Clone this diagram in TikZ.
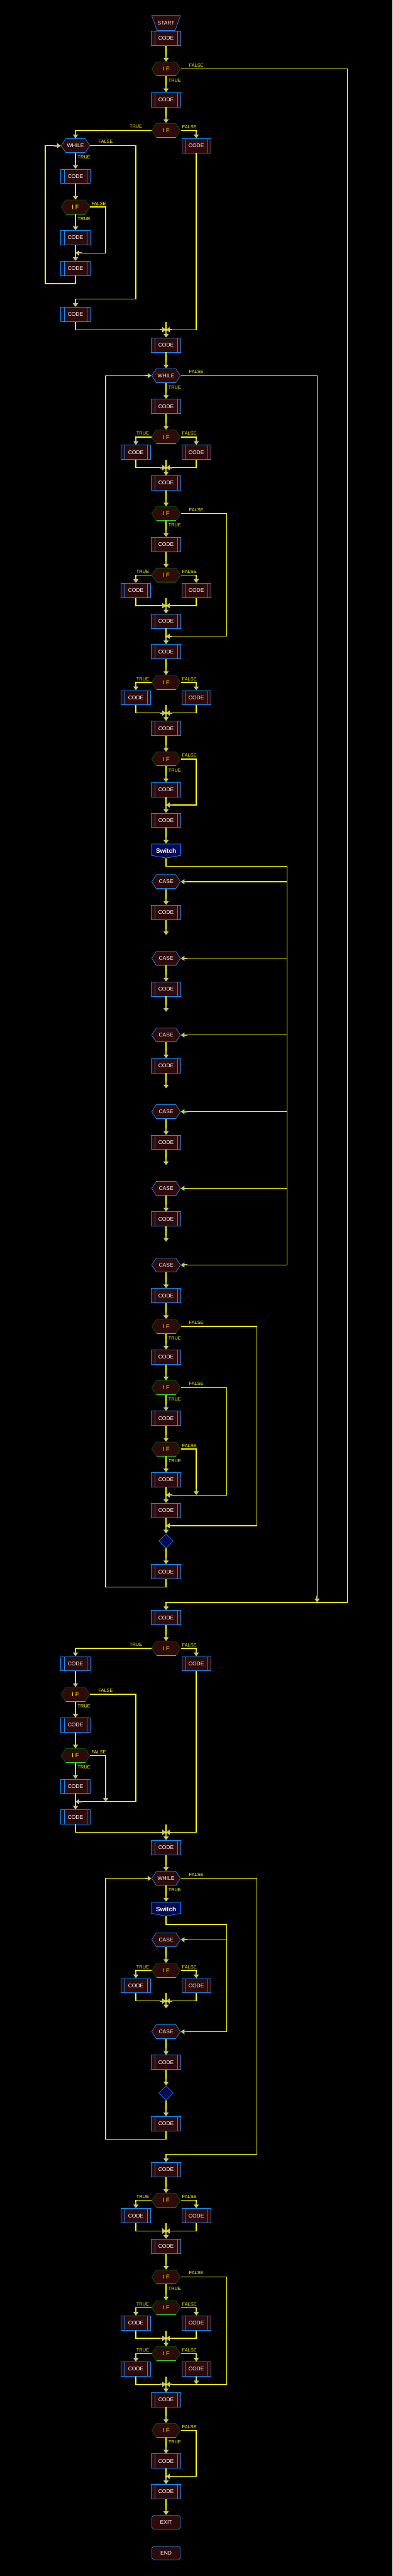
\documentclass[tikz,border=0pt]{standalone}
\usepackage{fontspec}
\setmainfont{Liberation Sans}
\usetikzlibrary{arrows.meta,calc}
\definecolor{flowyellow}{RGB}{255,255,0}
\definecolor{tipkhaki}{RGB}{200,200,112}
\definecolor{codeblue}{RGB}{20,140,255}
\definecolor{nodered}{RGB}{46,10,10}
\definecolor{ifgreen}{RGB}{0,100,0}
\definecolor{ifbright}{RGB}{40,225,40}
\definecolor{navyfill}{RGB}{6,10,80}
\tikzset{
  basebox/.style={rectangle,inner sep=0pt,minimum width=63pt,
                  minimum height=31pt,text=white,
                  font=\fontsize{11.5}{12}\selectfont},
  codebox/.style={basebox,fill=nodered,draw=codeblue,line width=1pt,
    path picture={\draw[codeblue,line width=.8pt]
      ([xshift=7pt]path picture bounding box.north west) --
      ([xshift=7pt]path picture bounding box.south west)
      ([xshift=-7pt]path picture bounding box.north east) --
      ([xshift=-7pt]path picture bounding box.south east);}},
  hexbox/.style 2 args={basebox,fill=black,
    path picture={\path[fill=nodered,draw=#1,line width=1pt]
      ([xshift=10.5pt,yshift=-.5pt]path picture bounding box.north west) --
      ([xshift=-10.5pt,yshift=-.5pt]path picture bounding box.north east) --
      ([xshift=-.5pt]path picture bounding box.east) --
      ([xshift=-10.5pt,yshift=.5pt]path picture bounding box.south east) --
      ([xshift=10.5pt,yshift=.5pt]path picture bounding box.south west) --
      ([xshift=.5pt]path picture bounding box.west) -- cycle;
      \draw[#2,line width=1.2pt]
      ([xshift=10.5pt,yshift=.6pt]path picture bounding box.south west) --
      ([xshift=-10.5pt,yshift=.6pt]path picture bounding box.south east);}},
  ifbox/.style={hexbox={ifgreen}{ifbright},text=flowyellow,
                font=\fontsize{12.5}{13}\selectfont},
  whilebox/.style={hexbox={codeblue}{codeblue}},
  casebox/.style={hexbox={codeblue}{codeblue}},
  startbox/.style={basebox,fill=black,minimum height=33pt,
    path picture={\path[fill=nodered,draw=codeblue,line width=1pt]
      ([xshift=.5pt,yshift=-.5pt]path picture bounding box.north west) --
      ([xshift=-.5pt,yshift=-.5pt]path picture bounding box.north east) --
      ([xshift=-12pt,yshift=.5pt]path picture bounding box.south east) --
      ([xshift=12pt,yshift=.5pt]path picture bounding box.south west) -- cycle;}},
  endbox/.style={basebox,fill=black,
    path picture={\path[fill=nodered,draw=codeblue,line width=1pt]
      ([xshift=5pt,yshift=-.5pt]path picture bounding box.north west) --
      ([xshift=-5pt,yshift=-.5pt]path picture bounding box.north east) --
      ([xshift=-.5pt,yshift=-5pt]path picture bounding box.north east) --
      ([xshift=-.5pt,yshift=5pt]path picture bounding box.south east) --
      ([xshift=-5pt,yshift=.5pt]path picture bounding box.south east) --
      ([xshift=5pt,yshift=.5pt]path picture bounding box.south west) --
      ([xshift=.5pt,yshift=5pt]path picture bounding box.south west) --
      ([xshift=.5pt,yshift=-5pt]path picture bounding box.north west) -- cycle;}},
  switchbox/.style={basebox,fill=black,minimum width=64pt,
    font=\bfseries\fontsize{13.5}{14}\selectfont,
    path picture={\path[fill=navyfill,draw=codeblue,line width=1pt]
      ([xshift=.5pt,yshift=-.5pt]path picture bounding box.north west) --
      ([xshift=-.5pt,yshift=-.5pt]path picture bounding box.north east) --
      ([xshift=-.5pt,yshift=6pt]path picture bounding box.south east) --
      ([yshift=.5pt]path picture bounding box.south) --
      ([xshift=.5pt,yshift=6pt]path picture bounding box.south west) -- cycle;}},
  diamondbox/.style={basebox,fill=black,minimum width=32pt,minimum height=32pt,
    path picture={\path[fill=navyfill,draw=codeblue,line width=.8pt]
      ([yshift=-.5pt]path picture bounding box.north) --
      ([xshift=-.5pt]path picture bounding box.east) --
      ([yshift=.5pt]path picture bounding box.south) --
      ([xshift=.5pt]path picture bounding box.west) -- cycle;}},
  flow/.style={draw=flowyellow,line width=1.8pt},
  arr/.style={flow,-{Rectangle[length=6pt,width=1pt,sep=0pt,color=tipkhaki]
                     Triangle[length=8pt,width=11pt,color=tipkhaki]}},
}
\begin{document}
\begin{tikzpicture}[x=65pt,y=-33pt,
    lab/.style={text=flowyellow,font=\fontsize{10}{10}\selectfont,inner sep=0pt},
    labfar/.style={lab,above=4pt},
    labtrue/.style={lab,anchor=north west,xshift=4pt,yshift=-5pt},
    labfalse/.style={lab,anchor=south west,xshift=2pt,yshift=3pt},
    lableft/.style={lab,anchor=south east,xshift=-4pt,yshift=3pt},
  ]
  \fill[black,use as bounding box] (-0.5,-0.5) rectangle (12.5,167.5);

  \node[startbox] (start) at (5,1) {START};
  \node[codebox] (c1) at (5,2) {CODE};
  \node[ifbox] (if1) at (5,4) {I\hspace{4pt}F};
  \node[codebox] (c2) at (5,6) {CODE};
  \node[ifbox] (if2) at (5,8) {I\hspace{4pt}F};
  \node[whilebox] (w1) at (2,9) {WHILE};
  \node[codebox] (c3) at (6,9) {CODE};
  \node[codebox] (c4) at (2,11) {CODE};
  \node[ifbox] (if3) at (2,13) {I\hspace{4pt}F};
  \node[codebox] (c5) at (2,15) {CODE};
  \node[codebox] (c6) at (2,17) {CODE};
  \node[codebox] (c7) at (2,20) {CODE};
  \node[codebox] (c8) at (5,22) {CODE};
  \node[whilebox] (w2) at (5,24) {WHILE};
  \node[codebox] (c9) at (5,26) {CODE};
  \node[ifbox] (if4) at (5,28) {I\hspace{4pt}F};
  \node[codebox] (c10) at (4,29) {CODE};
  \node[codebox] (c11) at (6,29) {CODE};
  \node[codebox] (c12) at (5,31) {CODE};
  \node[ifbox] (if5) at (5,33) {I\hspace{4pt}F};
  \node[codebox] (c13) at (5,35) {CODE};
  \node[ifbox] (if6) at (5,37) {I\hspace{4pt}F};
  \node[codebox] (c14) at (4,38) {CODE};
  \node[codebox] (c15) at (6,38) {CODE};
  \node[codebox] (c16) at (5,40) {CODE};
  \node[codebox] (c17) at (5,42) {CODE};
  \node[ifbox] (if7) at (5,44) {I\hspace{4pt}F};
  \node[codebox] (c18) at (4,45) {CODE};
  \node[codebox] (c19) at (6,45) {CODE};
  \node[codebox] (c20) at (5,47) {CODE};
  \node[ifbox] (if8) at (5,49) {I\hspace{4pt}F};
  \node[codebox] (c21) at (5,51) {CODE};
  \node[codebox] (c22) at (5,53) {CODE};
  \node[switchbox] (sw1) at (5,55) {Switch};

  \foreach \n/\r in {1/57,2/62,3/67,4/72,5/77,6/82}
    \node[casebox] (cs\n) at (5,\r) {CASE};
  \foreach \n/\r in {1/59,2/64,3/69,4/74,5/79} {
    \node[codebox] (cc\n) at (5,\r) {CODE};
    \draw[arr] (cs\n) -- (cc\n);
    \draw[arr] (cc\n.south) -- ++(0,1);
  }

  \node[codebox] (c23) at (5,84) {CODE};
  \node[ifbox] (if9) at (5,86) {I\hspace{4pt}F};
  \node[codebox] (c24) at (5,88) {CODE};
  \node[ifbox] (if10) at (5,90) {I\hspace{4pt}F};
  \node[codebox] (c25) at (5,92) {CODE};
  \node[ifbox] (if11) at (5,94) {I\hspace{4pt}F};
  \node[codebox] (c26) at (5,96) {CODE};
  \node[codebox] (c27) at (5,98) {CODE};
  \node[diamondbox] (dm1) at (5,100) {};
  \node[codebox] (c28) at (5,102) {CODE};
  \node[codebox] (c29) at (5,105) {CODE};
  \node[ifbox] (if12) at (5,107) {I\hspace{4pt}F};
  \node[codebox] (c30) at (2,108) {CODE};
  \node[codebox] (c31) at (6,108) {CODE};
  \node[ifbox] (if13) at (2,110) {I\hspace{4pt}F};
  \node[codebox] (c32) at (2,112) {CODE};
  \node[ifbox] (if14) at (2,114) {I\hspace{4pt}F};
  \node[codebox] (c33) at (2,116) {CODE};
  \node[codebox] (c34) at (2,118) {CODE};
  \node[codebox] (c35) at (5,120) {CODE};
  \node[whilebox] (w3) at (5,122) {WHILE};
  \node[switchbox] (sw2) at (5,124) {Switch};
  \node[casebox] (cs7) at (5,126) {CASE};
  \node[ifbox] (if15) at (5,128) {I\hspace{4pt}F};
  \node[codebox] (c36) at (4,129) {CODE};
  \node[codebox] (c37) at (6,129) {CODE};
  \node[casebox] (cs8) at (5,132) {CASE};
  \node[codebox] (c38) at (5,134) {CODE};
  \node[diamondbox] (dm2) at (5,136) {};
  \node[codebox] (c39) at (5,138) {CODE};
  \node[codebox] (c40) at (5,141) {CODE};
  \node[ifbox] (if16) at (5,143) {I\hspace{4pt}F};
  \node[codebox] (c41) at (4,144) {CODE};
  \node[codebox] (c42) at (6,144) {CODE};
  \node[codebox] (c43) at (5,146) {CODE};
  \node[ifbox] (if17) at (5,148) {I\hspace{4pt}F};
  \node[ifbox] (if18) at (5,150) {I\hspace{4pt}F};
  \node[codebox] (c44) at (4,151) {CODE};
  \node[codebox] (c45) at (6,151) {CODE};
  \node[ifbox] (if19) at (5,153) {I\hspace{4pt}F};
  \node[codebox] (c46) at (4,154) {CODE};
  \node[codebox] (c47) at (6,154) {CODE};
  \node[codebox] (c48) at (5,156) {CODE};
  \node[ifbox] (if20) at (5,158) {I\hspace{4pt}F};
  \node[codebox] (c49) at (5,160) {CODE};
  \node[codebox] (c50) at (5,162) {CODE};
  \node[endbox] (exitn) at (5,164) {EXIT};
  \node[endbox] (endn) at (5,166) {END};

  \coordinate (j1) at (2,16);
  \coordinate (j2) at (5,21);
  \coordinate (j5) at (5,41);
  \coordinate (j8) at (5,52);
  \coordinate (bus1) at (9,56);
  \coordinate (j97) at (5,97);
  \coordinate (k97) at (6,97);
  \coordinate (j99) at (5,99);
  \coordinate (k104) at (10,104);
  \coordinate (j117) at (2,117);
  \coordinate (k117) at (3,117);
  \coordinate (j119) at (5,119);
  \coordinate (bus2) at (7,125);
  \coordinate (j130) at (5,130);
  \coordinate (j155) at (5,155);
  \coordinate (k155) at (6,155);
  \coordinate (j161) at (5,161);

  \foreach \a/\b in {c1/if1,c2/if2,c4/if3,c5/c6,c8/w2,c9/if4,c12/if5,
      c13/if6,c16/c17,c17/if7,c20/if8,c21/c22,c22/sw1,cs6/c23,c23/if9,
      c24/if10,c25/if11,c26/c27,c27/dm1,dm1/c28,c29/if12,c30/if13,
      c32/if14,c33/c34,c35/w3,cs7/if15,cs8/c38,c38/dm2,dm2/c39,
      c40/if16,c43/if17,c48/if20,c49/c50,c50/exitn}
    \draw[arr] (\a) -- (\b);

  \foreach \a/\b in {if1/c2,w1/c4,if3/c5,w2/c9,if5/c13,if8/c21,if9/c24,
      if10/c25,if11/c26,if13/c32,if14/c33,w3/sw2,if17/if18,if20/c49}
    \draw[arr] (\a.south) node[labtrue]{TRUE} -- (\b);

  \foreach \i/\l/\r in {if4/c10/c11,if6/c14/c15,if7/c18/c19,if15/c36/c37,
      if16/c41/c42,if18/c44/c45,if19/c46/c47} {
    \draw[arr] (\i.west) node[lableft]{TRUE} -| (\l.north);
    \draw[arr] (\i.east) node[labfalse]{FALSE} -| (\r.north);
  }

  \foreach \l/\r/\n in {c10/c11/c12,c14/c15/c16,c18/c19/c20,c41/c42/c43,
      c44/c45/if19} {
    \coordinate (m\n) at ($(\n)+(0,-1)$);
    \draw[arr] (\l.south) |- (m\n);
    \draw[arr] (\r.south) |- (m\n);
    \draw[arr] (m\n |- \l.south) -- (\n);
  }

  \draw[arr] (if1.east) -- (6,4) node[labfar]{FALSE} -| (11,104) -| (c29.north);
  \draw[arr] (if2.west) -- (4,8) node[labfar]{TRUE} -| (w1.north);
  \draw[arr] (if2.east) node[labfalse]{FALSE} -| (c3.north);
  \draw[arr] (w1.east) -- (3,9) node[labfar]{FALSE} -| (4,19) -| (c7.north);
  \draw[arr] (if3.east) node[labfalse]{FALSE} -| (3,16) -- (j1);
  \draw[arr] (c6.south) |- (1,18) |- (w1.west);
  \draw[arr] (c7.south) |- (j2);
  \draw[arr] (c3.south) |- (j2);
  \draw[arr] (j2 |- c7.south) -- (c8);
  \draw[arr] (w2.east) -- (6,24) node[labfar]{FALSE} -| (k104);
  \draw[arr] (if5.east) -- (6,33) node[labfar]{FALSE} -| (7,41) -- (j5);
  \draw[arr] (if8.east) node[labfalse]{FALSE} -| (6,52) -- (j8);

  \draw[flow] (sw1.south) |- (bus1) -- (bus1 |- cs6.east);
  \foreach \n in {1,...,6}
    \draw[arr] (bus1 |- cs\n.east) -- (cs\n.east);

  \draw[arr] (if9.east) -- (6,86) node[labfar]{FALSE} -| (8,99) -- (j99);
  \draw[arr] (if10.east) -- (6,90) node[labfar]{FALSE} -| (7,97) -- (j97);
  \draw[arr] (if11.east) node[labfalse]{FALSE} -| (k97);
  \draw[arr] (c28.south) |- (3,103) |- (w2.west);

  \draw[arr] (if12.west) -- (4,107) node[labfar]{TRUE} -| (c30.north);
  \draw[arr] (if12.east) node[labfalse]{FALSE} -| (c31.north);
  \draw[arr] (if13.east) -- (3,110) node[labfar]{FALSE} -| (4,117) -- (j117);
  \draw[arr] (if14.east) node[labfalse]{FALSE} -| (k117);
  \draw[arr] (c34.south) |- (j119);
  \draw[arr] (c31.south) |- (j119);
  \draw[arr] (j119 |- c34.south) -- (c35);

  \draw[arr] (w3.east) -- (6,122) node[labfar]{FALSE} -| (8,140) -| (c40.north);
  \draw[flow] (sw2.south) |- (bus2) -- (bus2 |- cs8.east);
  \foreach \n in {7,8}
    \draw[arr] (bus2 |- cs\n.east) -- (cs\n.east);
  \draw[arr] (c36.south) |- (j130);
  \draw[arr] (c37.south) |- (j130);
  \draw[arr] (j130 |- c36.south) -- ++(0,1);
  \draw[arr] (c39.south) |- (3,139) |- (w3.west);

  \draw[arr] (c46.south) |- (j155);
  \draw[arr] (c47.south) -- (k155);
  \draw[arr] (if17.east) -- (6,148) node[labfar]{FALSE} -| (7,155) -- (j155);
  \draw[arr] (j155 |- c46.south) -- (c48);
  \draw[arr] (if20.east) node[labfalse]{FALSE} -| (6,161) -- (j161);

\end{tikzpicture}
\end{document}
